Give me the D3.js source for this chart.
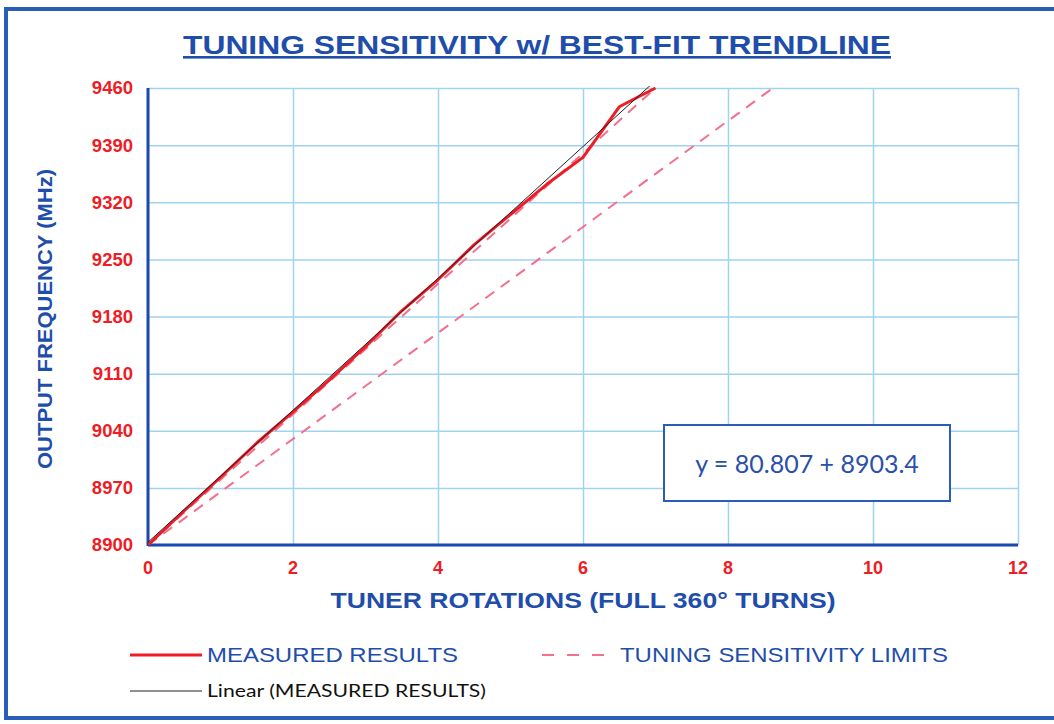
<!DOCTYPE html>
<html>
<head>
<meta charset="utf-8">
<script src="https://cdn.jsdelivr.net/npm/d3@7"></script>
<style>
  body { margin: 0; background: #fff; }
  svg { display: block; }
</style>
</head>
<body>
<div id="chart"></div>
<script>
// measured tuner data (turns vs MHz)
var rotations = [0, 0.5, 1, 1.5, 2, 2.5, 3, 3.5, 4, 4.5, 5, 5.5, 6, 6.5, 7];
var measured = [8900, 8942, 8983, 9025, 9063, 9102, 9143, 9187, 9225, 9268, 9305, 9342, 9375, 9437, 9460];

// tuning sensitivity limit lines (end points)
var limitLowX = [0, 8.62];
var limitLowY = [8900, 9460];
var limitHighX = [0, 7];
var limitHighY = [8900, 9460];

// linear trendline from the fit
var trendSlope = 80.807;
var trendIntercept = 8903.4;
var trendX = [0, 7];

var xTicks = [0, 2, 4, 6, 8, 10, 12];
var yTicks = [8900, 8970, 9040, 9110, 9180, 9250, 9320, 9390, 9460];

var W = 1054, H = 724;
// note: "top" is taken by window.top, so plot edges get their own names
var plotL = 148, plotR = 1018, plotT = 88, plotB = 545;

var blue = "#1f4eaa", red = "#ee1c25", pink = "#f2708e", grid = "#9fd3f0";

var svg = d3.select("#chart").append("svg")
    .attr("width", W)
    .attr("height", H);

// page frame
svg.append("rect").attr("x", 0).attr("y", 0).attr("width", W).attr("height", H).style("fill", "#fff");
svg.append("path")
    .attr("d", "M1060,9 L6,9 L6,718 L1060,718")
    .style("fill", "none").style("stroke", "#2a5db8").style("stroke-width", 4);

var x = d3.scaleLinear().domain([0, 12]).range([plotL, plotR]);
var y = d3.scaleLinear().domain([8900, 9460]).range([plotB, plotT]);

// grid
svg.append("g")
    .attr("transform", "translate(0," + plotB + ")")
    .call(d3.axisBottom(x).tickValues(xTicks).tickSize(-(plotB - plotT)).tickFormat(""))
    .call(function (g) { g.select(".domain").remove(); })
    .selectAll("line").style("stroke", grid).style("stroke-width", 1.5);

svg.append("g")
    .attr("transform", "translate(" + plotL + ",0)")
    .call(d3.axisLeft(y).tickValues(yTicks).tickSize(-(plotR - plotL)).tickFormat(""))
    .call(function (g) { g.select(".domain").remove(); })
    .selectAll("line").style("stroke", grid).style("stroke-width", 1.5);

// axis lines
svg.append("line").attr("x1", plotL).attr("x2", plotL).attr("y1", plotT).attr("y2", plotB + 1)
    .style("stroke", "#1d48b0").style("stroke-width", 3);
svg.append("line").attr("x1", plotL).attr("x2", plotR).attr("y1", plotB).attr("y2", plotB)
    .style("stroke", "#1d48b0").style("stroke-width", 3);

// tick labels
svg.append("g").selectAll("text")
    .data(yTicks).enter().append("text")
    .attr("x", 133)
    .attr("y", function (d) { return y(d); })
    .attr("dy", "0.35em")
    .style("text-anchor", "end")
    .style("font-family", "Liberation Sans, Arial, sans-serif")
    .style("font-weight", "bold")
    .style("font-size", "18.5px")
    .style("fill", red)
    .text(function (d) { return d; });

svg.append("g").selectAll("text")
    .data(xTicks).enter().append("text")
    .attr("x", function (d) { return x(d); })
    .attr("y", 574)
    .style("text-anchor", "middle")
    .style("font-family", "Liberation Sans, Arial, sans-serif")
    .style("font-weight", "bold")
    .style("font-size", "18px")
    .style("fill", red)
    .text(function (d) { return d; });

svg.append("defs").append("clipPath").attr("id", "plot-clip")
    .append("rect").attr("x", plotL).attr("y", plotT - 2).attr("width", plotR - plotL).attr("height", plotB - plotT + 2);

var plot = svg.append("g").attr("clip-path", "url(#plot-clip)");
var line = d3.line().x(function (d) { return x(d[0]); }).y(function (d) { return y(d[1]); });

plot.append("path")
    .datum(d3.zip(limitLowX, limitLowY))
    .attr("d", line)
    .style("fill", "none").style("stroke", pink).style("stroke-width", 2).style("stroke-dasharray", "11,8");
plot.append("path")
    .datum(d3.zip(limitHighX, limitHighY))
    .attr("d", line)
    .style("fill", "none").style("stroke", pink).style("stroke-width", 2).style("stroke-dasharray", "11,8");

plot.append("path")
    .datum(d3.zip(rotations, measured))
    .attr("d", line)
    .style("fill", "none").style("stroke", red).style("stroke-width", 3).style("stroke-linejoin", "round");

plot.append("path")
    .datum(trendX.map(function (t) { return [t, trendIntercept + trendSlope * t]; }))
    .attr("d", line)
    .style("fill", "none").style("stroke", "#222").style("stroke-width", 1);

// equation box
svg.append("rect")
    .attr("x", 664).attr("y", 425).attr("width", 286).attr("height", 76)
    .style("fill", "#fff").style("stroke", "#2a5db8").style("stroke-width", 2);
svg.append("text")
    .attr("x", 807).attr("y", 464)
    .attr("dy", "0.35em")
    .style("text-anchor", "middle")
    .style("font-family", "Lato, Open Sans, sans-serif")
    .style("font-size", "25px")
    .style("fill", "#2a50a8")
    .text("y = 80.807 + 8903.4");

// titles
svg.append("text")
    .attr("x", 537).attr("y", 54)
    .attr("textLength", 708).attr("lengthAdjust", "spacingAndGlyphs")
    .style("text-anchor", "middle")
    .style("font-family", "Liberation Sans, Arial, sans-serif")
    .style("font-weight", "bold")
    .style("font-size", "26px")
    .style("text-decoration", "underline")
    .style("fill", blue)
    .text("TUNING SENSITIVITY w/ BEST-FIT TRENDLINE");

svg.append("text")
    .attr("transform", "translate(52,319) rotate(-90)")
    .attr("textLength", 300).attr("lengthAdjust", "spacingAndGlyphs")
    .style("text-anchor", "middle")
    .style("font-family", "Liberation Sans, Arial, sans-serif")
    .style("font-weight", "bold")
    .style("font-size", "20px")
    .style("fill", blue)
    .text("OUTPUT FREQUENCY (MHz)");

svg.append("text")
    .attr("x", 583).attr("y", 608)
    .attr("textLength", 505).attr("lengthAdjust", "spacingAndGlyphs")
    .style("text-anchor", "middle")
    .style("font-family", "Liberation Sans, Arial, sans-serif")
    .style("font-weight", "bold")
    .style("font-size", "22px")
    .style("fill", blue)
    .text("TUNER ROTATIONS (FULL 360\u00b0 TURNS)");

// legend
var legend = svg.append("g");
legend.append("line").attr("x1", 130).attr("x2", 202).attr("y1", 655).attr("y2", 655)
    .style("stroke", red).style("stroke-width", 3);
legend.append("text").attr("x", 207).attr("y", 662)
    .attr("textLength", 251).attr("lengthAdjust", "spacingAndGlyphs")
    .style("font-family", "Liberation Sans, Arial, sans-serif").style("font-size", "21px")
    .style("fill", blue).text("MEASURED RESULTS");

legend.append("line").attr("x1", 542).attr("x2", 612).attr("y1", 655).attr("y2", 655)
    .style("stroke", pink).style("stroke-width", 2).style("stroke-dasharray", "12,13");
legend.append("text").attr("x", 620).attr("y", 662)
    .attr("textLength", 328).attr("lengthAdjust", "spacingAndGlyphs")
    .style("font-family", "Liberation Sans, Arial, sans-serif").style("font-size", "21px")
    .style("fill", blue).text("TUNING SENSITIVITY LIMITS");

legend.append("line").attr("x1", 130).attr("x2", 202).attr("y1", 691).attr("y2", 691)
    .style("stroke", "#222").style("stroke-width", 1.2);
legend.append("text").attr("x", 207).attr("y", 697)
    .attr("textLength", 279).attr("lengthAdjust", "spacingAndGlyphs")
    .style("font-family", "Lato, Open Sans, sans-serif").style("font-size", "17px")
    .style("fill", "#111").text("Linear (MEASURED RESULTS)");
</script>
</body>
</html>
